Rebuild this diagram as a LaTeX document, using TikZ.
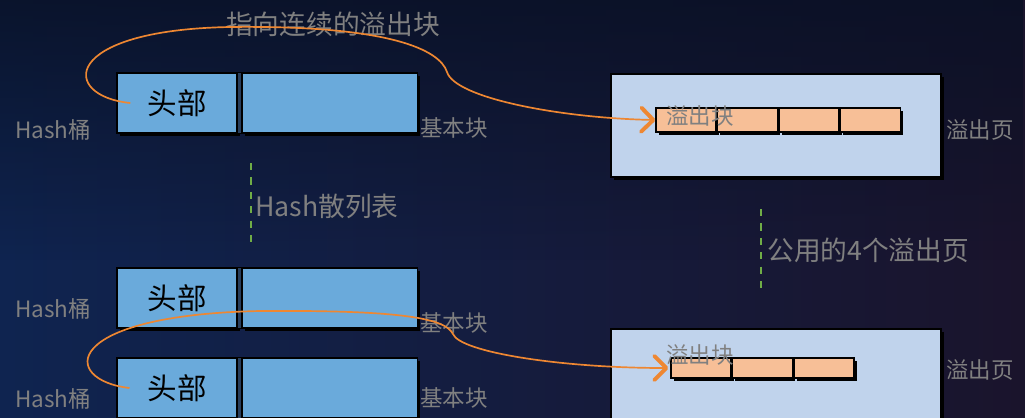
\documentclass[tikz,border=0pt]{standalone}
\usepackage{fontspec}
\newfontfamily\cjk{Noto Sans CJK SC}
\usetikzlibrary{positioning,shadows,arrows.meta,fadings}

\definecolor{bgleft}{RGB}{15,36,80}
\definecolor{bgright}{RGB}{26,20,44}
\definecolor{bgtop}{RGB}{9,16,36}
\definecolor{bucketblue}{RGB}{106,170,219}
\definecolor{dividercol}{RGB}{40,62,92}
\definecolor{pageblue}{RGB}{192,211,236}
\definecolor{blockpeach}{RGB}{247,191,151}
\definecolor{linkorange}{RGB}{238,135,50}
\definecolor{labelgray}{RGB}{128,128,128}
\definecolor{dashgreen}{RGB}{112,173,71}

\tikzset{
  boxshadow/.style={drop shadow={shadow xshift=0.075cm,shadow yshift=-0.075cm,fill=black,opacity=1}},
  headbox/.style={draw=black,line width=1pt,fill=bucketblue,boxshadow,minimum width=3cm,minimum height=1.5cm,inner sep=0pt,font=\cjk\fontsize{21}{24}\selectfont},
  bodybox/.style={draw=black,line width=1pt,fill=bucketblue,boxshadow,minimum width=4.375cm,minimum height=1.5cm,inner sep=0pt},
  pagebox/.style={draw=black,line width=1pt,fill=pageblue,boxshadow,minimum width=8.25cm,minimum height=2.575cm,inner sep=0pt},
  blockcell/.style={draw=black,line width=1pt,fill=blockpeach,boxshadow,minimum width=1.5cm,inner sep=0pt},
  lbl/.style={text=labelgray,inner sep=0pt,font=\cjk\fontsize{16}{19}\selectfont},
  biglbl/.style={lbl,font=\cjk\fontsize{19}{22}\selectfont},
  link/.style={linkorange,line width=1.2pt,-{Straight Barb[length=0.3cm,width=0.6cm,line width=2.8pt,round]}},
  sep/.style={dashgreen,line width=1.5pt,dash pattern=on 0.18cm off 0.18cm}
}

\begin{document}
\begin{tikzpicture}[x=0.025cm,y=-0.025cm]
\useasboundingbox (0,0) rectangle (1025,417);
\clip (0,0) rectangle (1025,417);
% background
\shade[left color=bgleft,right color=bgright] (0,0) rectangle (1025,417);
\fill[bgtop,path fading=south,opacity=0.8] (0,0) rectangle (1025,260);

% hash buckets
\node[headbox] (h1) at (177,103) {头部};
\node[bodybox,right=0.1cm of h1] (b1) {};
\filldraw[fill=dividercol,draw=black,line width=1pt] (h1.north east) rectangle (b1.south west);

\node[headbox] (h2) at (177,298) {头部};
\node[bodybox,right=0.1cm of h2] (b2) {};
\filldraw[fill=dividercol,draw=black,line width=1pt] (h2.north east) rectangle (b2.south west);

\node[headbox] (h3) at (177,388) {头部};
\node[bodybox,right=0.1cm of h3] (b3) {};
\filldraw[fill=dividercol,draw=black,line width=1pt] (h3.north east) rectangle (b3.south west);

\node[lbl,anchor=west] (hb1) at (15,130) {Hash桶};
\node[lbl,anchor=west] (hb2) at (15,309) {Hash桶};
\node[lbl,anchor=west] (hb3) at (15,399) {Hash桶};
\node[lbl,anchor=west] (bk1) at (420,128) {基本块};
\node[lbl,anchor=west] (bk2) at (420,323) {基本块};
\node[lbl,anchor=west] (bk3) at (420,398) {基本块};

% overflow pages
\node[pagebox] (p1) at (776,125.5) {};
\node[blockcell,minimum height=0.6cm] (o1a) at (686,120) {};
\node[blockcell,minimum height=0.6cm,right=0pt of o1a] (o1b) {};
\node[blockcell,minimum height=0.6cm,right=0pt of o1b] (o1c) {};
\node[blockcell,minimum height=0.6cm,right=0pt of o1c] (o1d) {};

\node[pagebox] (p2) at (776,380.5) {};
\node[blockcell,minimum height=0.5cm] (o2a) at (701,368) {};
\node[blockcell,minimum height=0.5cm,right=0pt of o2a] (o2b) {};
\node[blockcell,minimum height=0.5cm,right=0pt of o2b] (o2c) {};

\node[lbl] (ob1) at (700,116) {溢出块};
\node[lbl] (ob2) at (700,355) {溢出块};
\node[lbl,anchor=west] (op1) at (946,130) {溢出页};
\node[lbl,anchor=west] (op2) at (946,370) {溢出页};

% separators
\coordinate (s1) at (251,163);
\coordinate (s2) at (251,248);
\draw[sep] (s1) -- (s2);
\node[biglbl,anchor=west] (tbl) at (255,206) {Hash散列表};
\coordinate (s3) at (761,209);
\coordinate (s4) at (761,293);
\draw[sep] (s3) -- (s4);
\node[biglbl,anchor=west] (shared) at (767,250) {公用的4个溢出页};

\node[biglbl] (title) at (333,24) {指向连续的溢出块};

% links
\coordinate (l1) at ([xshift=0.35cm]h1.west);
\coordinate (l3) at ([xshift=0.33cm]h3.west);
\draw[link] (l1) .. controls (60,96) and (60,30) .. (230,27)
  .. controls (390,25) and (440,50) .. (447,72)
  .. controls (455,98) and (560,118) .. (o1a.west);
\draw[link] (l3) .. controls (60,380) and (60,315) .. (260,311)
  .. controls (400,310) and (445,318) .. (453,334)
  .. controls (460,352) and (560,368) .. ([xshift=-0.05cm]o2a.west);
\end{tikzpicture}
\end{document}
